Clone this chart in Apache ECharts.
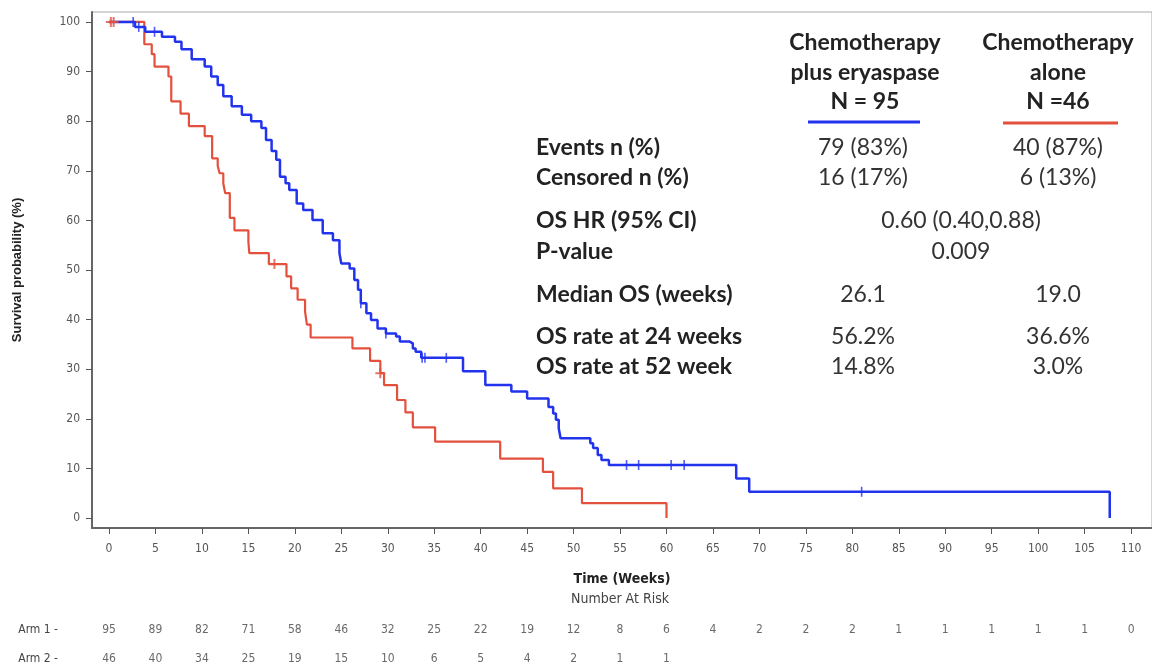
<!DOCTYPE html>
<html>
<head>
<meta charset="utf-8">
<script src="https://cdn.jsdelivr.net/npm/echarts@6/dist/echarts.min.js"></script>
<style>
  html, body { margin: 0; padding: 0; background: #fff; }
  #chart { width: 1152px; height: 668px; }
</style>
</head>
<body>
<div id="chart"></div>
<script>
// tick labels
let xTicks = [0, 5, 10, 15, 20, 25, 30, 35, 40, 45, 50, 55, 60, 65, 70, 75, 80, 85, 90, 95, 100, 105, 110];
let yTicks = [0, 10, 20, 30, 40, 50, 60, 70, 80, 90, 100];

// Kaplan-Meier steps: [week, survival % after the event]
let arm1Steps = [
  [0, 100], [2.8, 99], [3.9, 98], [5.7, 97], [7.1, 96], [7.8, 94.5], [8.9, 92.5],
  [10.3, 91], [11.0, 89], [11.7, 87.3], [12.3, 85], [13.2, 83], [14.3, 81.3],
  [15.3, 80], [16.4, 78.6], [16.9, 76.2], [17.5, 74], [18.0, 72.2], [18.4, 68.8],
  [19.0, 67.5], [19.4, 66.1], [20.2, 63.4], [20.9, 62.1], [21.9, 60.1], [23.0, 57.4],
  [24.1, 56.0], [24.8, 53.4], [25.0, 51.3], [25.9, 50.3], [26.4, 48], [26.8, 46],
  [27.1, 43.3], [27.7, 41.3], [28.2, 39.9], [28.9, 38.2], [29.8, 37.2], [30.9, 36.6],
  [31.3, 35.6], [32.3, 35.2], [32.7, 34.2], [33.0, 33.5], [33.6, 32.3], [38.1, 29.6],
  [40.5, 26.8], [43.3, 25.5], [45.0, 24.1], [47.3, 22.4], [47.8, 21.1], [48.1, 19.8],
  [48.4, 18.1], [48.6, 16.1], [51.8, 15.1], [52.1, 14.1], [52.6, 12.7], [53.0, 11.7],
  [53.8, 10.7], [67.5, 8.0], [68.9, 5.3], [107.7, 5.3], [107.7, 0]
];
let arm2Steps = [
  [0, 100], [3.8, 95.5], [4.6, 93.5], [4.9, 91], [6.4, 89], [6.7, 84], [7.7, 81.5],
  [8.6, 79], [10.3, 77], [11.1, 72.5], [11.7, 71], [11.9, 69.5], [12.3, 67.5],
  [12.5, 65.5], [13.0, 60.5], [13.5, 58], [15.0, 55.7], [15.1, 53.4], [17.2, 51.2],
  [19.1, 48.7], [19.6, 46.3], [20.3, 44], [21.1, 41.6], [21.3, 39], [21.7, 36.4],
  [26.2, 34.2], [28.1, 31.7], [29.2, 29.2], [29.6, 26.8], [31.0, 23.8], [31.9, 21.3],
  [32.7, 18.3], [35.1, 15.4], [42.1, 12.0], [46.7, 9.3], [47.8, 6.0], [50.9, 3.0],
  [60.0, 3.0], [60.0, 0]
];
// censored observations
let arm1Censor = [[2.6, 100], [3.2, 99], [4.9, 98], [27.1, 43.3], [29.8, 37.2], [33.7, 32.3],
  [34.0, 32.3], [36.3, 32.3], [55.7, 10.7], [57.0, 10.7], [60.5, 10.7], [61.9, 10.7], [81.0, 5.3]];
let arm2Censor = [[0.2, 100], [0.5, 100], [17.8, 51.2], [29.2, 29.2]];

// number at risk
let riskArms = ['Arm 1', 'Arm 2'];
let atRiskArm1 = [95, 89, 82, 71, 58, 46, 32, 25, 22, 19, 12, 8, 6, 4, 2, 2, 2, 1, 1, 1, 1, 1, 0];
let atRiskArm2 = [46, 40, 34, 25, 19, 15, 10, 6, 5, 4, 2, 1, 1];

// summary table
let colHeads1 = ['Chemotherapy', 'plus eryaspase', 'N = 95'];
let colHeads2 = ['Chemotherapy', 'alone', 'N =46'];
let rowLabels = ['Events n (%)', 'Censored n (%)', 'OS HR (95% CI)', 'P-value', 'Median OS (weeks)', 'OS rate at 24 weeks', 'OS rate at 52 week'];
let col1Vals = ['79 (83%)', '16 (17%)', '', '', '26.1', '56.2%', '14.8%'];
let col2Vals = ['40 (87%)', '6 (13%)', '', '', '19.0', '36.6%', '3.0%'];
let sharedVals = ['', '', '0.60 (0.40,0.88)', '0.009', '', '', ''];

let blue = '#2233ee';
let red = '#e4503e';
let tableFont = 'Lato, "Open Sans", sans-serif';
let narrowFont = '"DejaVu Sans Condensed", "Liberation Sans Narrow", Arial, sans-serif';

let riskData = [];
atRiskArm1.forEach((v, i) => riskData.push([xTicks[i], riskArms[0], v]));
atRiskArm2.forEach((v, i) => riskData.push([xTicks[i], riskArms[1], v]));

// table graphics
let rowY = [148, 178, 221, 252, 295, 337, 367];
let headY = [43, 73, 102];
let g = [];
let txt = (x, y, s, bold, align, color) => ({
  type: 'text', x: x, y: y,
  style: { text: s, font: (bold ? 'bold ' : '') + '23px ' + tableFont, fill: color, align: align, verticalAlign: 'middle' }
});
headY.forEach((y, i) => {
  g.push(txt(865, y, colHeads1[i], true, 'center', '#222'));
  g.push(txt(1058, y, colHeads2[i], true, 'center', '#222'));
});
g.push({ type: 'line', shape: { x1: 808, y1: 122, x2: 920, y2: 122 }, style: { stroke: blue, lineWidth: 3 } });
g.push({ type: 'line', shape: { x1: 1003, y1: 123, x2: 1118, y2: 123 }, style: { stroke: red, lineWidth: 3 } });
rowY.forEach((y, i) => {
  g.push(txt(536, y, rowLabels[i], true, 'left', '#222'));
  if (col1Vals[i]) g.push(txt(863, y, col1Vals[i], false, 'center', '#333'));
  if (col2Vals[i]) g.push(txt(1058, y, col2Vals[i], false, 'center', '#333'));
  if (sharedVals[i]) g.push(txt(961, y, sharedVals[i], false, 'center', '#333'));
});
g.push({ type: 'text', x: 620, y: 599, style: { text: 'Number At Risk', font: '14px ' + narrowFont, fill: '#444', align: 'center', verticalAlign: 'middle' } });

let chart = echarts.init(document.getElementById('chart'));
let option = {
  animation: false,
  backgroundColor: '#fff',
  graphic: g,
  grid: [
    { left: 92, right: -2, top: 12, bottom: 140, show: true, borderColor: '#aaa', borderWidth: 1 },
    { left: 92, right: -2, top: 630, height: 29 }
  ],
  xAxis: [
    {
      gridIndex: 0, type: 'value', min: -1.83, max: 112.25,
      axisLine: { show: true, onZero: false, lineStyle: { color: '#666', width: 2 } },
      axisTick: { show: true, customValues: xTicks, length: 6, lineStyle: { color: '#555' } },
      axisLabel: { customValues: xTicks, margin: 15, color: '#555', fontSize: 12, fontFamily: narrowFont },
      splitLine: { show: false },
      name: 'Time (Weeks)', nameLocation: 'middle', nameGap: 44,
      nameTextStyle: { fontSize: 14, fontWeight: 'bold', color: '#222', fontFamily: narrowFont }
    },
    {
      gridIndex: 1, type: 'value', min: -1.83, max: 112.25,
      axisLine: { show: false }, axisTick: { show: false }, axisLabel: { show: false }, splitLine: { show: false }
    }
  ],
  yAxis: [
    {
      gridIndex: 0, type: 'value', min: -2, max: 102,
      axisLine: { show: true, onZero: false, lineStyle: { color: '#666', width: 2 } },
      axisTick: { show: true, customValues: yTicks, length: 6, lineStyle: { color: '#555' } },
      axisLabel: { customValues: yTicks, margin: 12, color: '#555', fontSize: 12, fontFamily: narrowFont },
      splitLine: { show: false },
      name: 'Survival probability (%)', nameLocation: 'middle', nameGap: 68, nameRotate: 90,
      nameTextStyle: { fontSize: 13, fontWeight: 'bold', color: '#222', fontFamily: '"Liberation Sans", Arial, sans-serif' }
    },
    {
      gridIndex: 1, type: 'category', data: riskArms, inverse: true, boundaryGap: false,
      axisLine: { show: false }, axisTick: { show: false }, splitLine: { show: false },
      axisLabel: { margin: 34, color: '#444', fontSize: 12, fontFamily: narrowFont, formatter: (v) => v + ' -' }
    }
  ],
  series: [
    {
      name: 'Chemotherapy plus eryaspase', type: 'line', step: 'end', data: arm1Steps,
      showSymbol: false, lineStyle: { color: blue, width: 2.5 }, z: 3
    },
    {
      name: 'Chemotherapy alone', type: 'line', step: 'end', data: arm2Steps,
      showSymbol: false, lineStyle: { color: red, width: 2.2 }, z: 2
    },
    {
      type: 'scatter', data: arm1Censor, symbol: 'rect', symbolSize: [1.6, 10],
      itemStyle: { color: blue }, z: 4
    },
    {
      type: 'scatter', data: arm2Censor, symbol: 'path://M4,0h2v4h4v2h-4v4h-2v-4h-4v-2h4z', symbolSize: 10,
      itemStyle: { color: red }, z: 4
    },
    {
      type: 'scatter', xAxisIndex: 1, yAxisIndex: 1, data: riskData, symbolSize: 0,
      label: {
        show: true, position: 'inside', color: '#444', fontSize: 12, fontFamily: narrowFont,
        formatter: (p) => String(p.value[2])
      }
    }
  ]
};
chart.setOption(option);
</script>
</body>
</html>
